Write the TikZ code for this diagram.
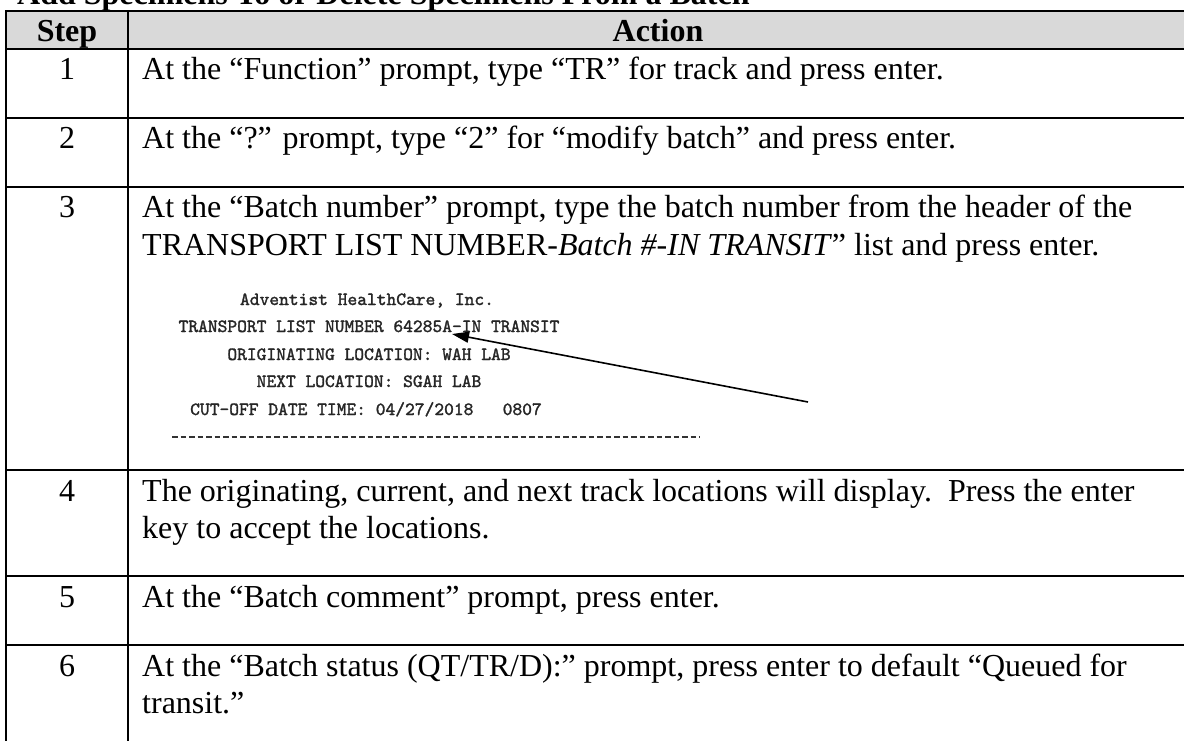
\documentclass[tikz,border=0pt]{standalone}
\usepackage{fontspec}
\setmainfont{Liberation Serif}
\newfontfamily\scanfont[Extension=.otf, FakeBold=1.6]{lmmono10-regular}
\usetikzlibrary{arrows.meta}
\definecolor{hdrgray}{HTML}{D9D9D9}
\begin{document}
\begin{tikzpicture}[x=1pt,y=-1pt,
  txt/.style={anchor=base west, inner sep=0pt, font=\fontsize{32}{37}\selectfont},
  num/.style={anchor=base, inner sep=0pt, font=\fontsize{32}{37}\selectfont},
  hdr/.style={anchor=base, inner sep=0pt, font=\fontsize{32}{37}\selectfont\bfseries},
  scan/.style={anchor=base, inner sep=0pt, font=\fontsize{18.6}{20}\selectfont\scanfont, text=black!85},
  rule/.style={line width=2pt, line cap=rect},
  pointer/.style={line width=1.6pt, -{Triangle[length=17pt,width=11pt]}}]
\useasboundingbox (0,0) rectangle (1184,741);
\clip (0,0) rectangle (1184,741);
\fill[white] (0,0) rectangle (1184,741);
% header fill
\fill[hdrgray] (6,11) rectangle (1188,49);
% title (mostly cut off above)
\node[anchor=base west, inner sep=0pt, font=\fontsize{32}{37}\selectfont\bfseries] (title) at (17,5) {Add Specimens To or Delete Specimens From a Batch};
% grid
\foreach \yy in {11,49,118,187,470,576,645}
  \draw[rule] (6,\yy) -- (1188,\yy);
\foreach \xx in {6,128,1188}
  \draw[rule] (\xx,11) -- (\xx,750);
% header
\node[hdr] (hstep) at (67,42) {Step};
\node[hdr] (haction) at (658,42) {Action};
% step numbers
\node[num] (n1) at (67,80) {1};
\node[num] (n2) at (67,149) {2};
\node[num] (n3) at (67,218) {3};
\node[num] (n4) at (67,501) {4};
\node[num] (n5) at (67,607) {5};
\node[num] (n6) at (67,676) {6};
% actions
\node[txt] (a1) at (142,80) {At the “Function” prompt, type “TR” for track and press enter.};
\node[txt] (a2) at (142,149) {At the “?” prompt, type “2” for “modify batch” and press enter.};
\node[txt] (a3a) at (142,218) {At the “Batch number” prompt, type the batch number from the header of the};
\node[txt] (a3b) at (142,255) {TRANSPORT LIST NUMBER-\textit{Batch \#-IN TRANSIT}” list and press enter.};
\node[txt] (a4a) at (142,501) {The originating, current, and next track locations will display.\ \ Press the enter};
\node[txt] (a4b) at (142,538) {key to accept the locations.};
\node[txt] (a5) at (142,607) {At the “Batch comment” prompt, press enter.};
\node[txt] (a6a) at (142,676) {At the “Batch status (QT/TR/D):” prompt, press enter to default “Queued for};
\node[txt] (a6b) at (142,713) {transit.”};
% scanned printout
\node[scan] (s1) at (367,305) {Adventist HealthCare, Inc.};
\node[scan] (s2) at (369,332) {TRANSPORT LIST NUMBER 64285A-IN TRANSIT};
\node[scan] (s3) at (369,360) {ORIGINATING LOCATION: WAH LAB};
\node[scan] (s4) at (369,387) {NEXT LOCATION: SGAH LAB};
\node[scan] (s5) at (366,415) {CUT-OFF DATE TIME: 04/27/2018\ \ \ 0807};
\draw[line width=1.8pt, black!80, dash pattern=on 5.5pt off 3pt] (172,437) -- (700,437);
% pointer arrow
\coordinate (tail) at (808,402);
\coordinate (tip) at (452,334);
\draw[pointer] (tail) -- (tip);
\end{tikzpicture}
\end{document}
